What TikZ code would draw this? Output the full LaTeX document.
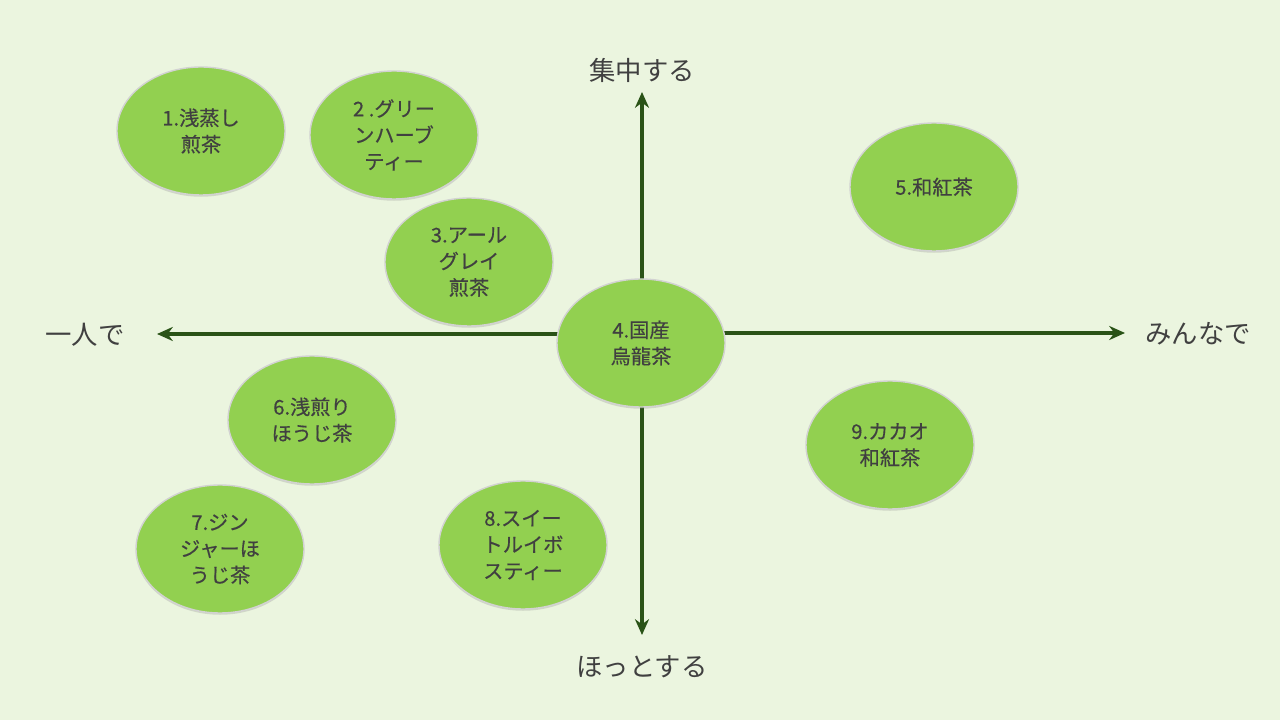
\documentclass[tikz,border=0pt]{standalone}
\usepackage{fontspec}
\setmainfont{Noto Sans CJK JP}
\newfontfamily\teafont{Noto Sans CJK JP}[FakeBold=0.5]
\usetikzlibrary{arrows.meta,positioning,shapes.geometric,shadows,backgrounds}
\definecolor{bgleaf}{HTML}{EBF5DF}
\definecolor{teafill}{HTML}{92D050}
\definecolor{axisgreen}{HTML}{2A5317}
\definecolor{inkgray}{HTML}{404040}

\begin{document}
\begin{tikzpicture}[>=Stealth,text=inkgray]
\tikzstyle{tea}=[ellipse,fill=teafill,draw=gray!35,line width=0.8pt,minimum width=3.36cm,minimum height=2.56cm,inner sep=0pt,align=center,font=\teafont\fontsize{11.5}{15}\selectfont,drop shadow={shadow xshift=0pt,shadow yshift=-1pt,opacity=0.25}]
\tikzstyle{ax}=[draw=axisgreen,line width=2pt,-{Stealth[length=9pt,width=8pt]}]
\tikzstyle{lab}=[font=\fontsize{15}{18}\selectfont]
% teas
\node[tea] (tea1) at (4.02,11.78) {1.浅蒸し\\煎茶};
\node[tea] (tea2) at (7.88,11.70) {2 .グリー\\ンハーブ\\ティー};
\node[tea] (tea3) at (9.38,9.16) {3.アール\\グレイ\\煎茶};
\node[tea] (tea4) at (12.82,7.54) {4.国産\\烏龍茶};
\node[tea] (tea5) at (18.68,10.66) {5.和紅茶};
\node[tea] (tea6) at (6.24,6.00) {6.浅煎り\\ほうじ茶};
\node[tea] (tea7) at (4.40,3.42) {7.ジン\\ジャーほ\\うじ茶};
\node[tea] (tea8) at (10.46,3.50) {8.スイー\\トルイボ\\スティー};
\node[tea] (tea9) at (17.80,5.50) {9.カカオ\\和紅茶};
% axes
\coordinate (lft) at (3.14,7.72);
\coordinate (rgt) at (22.50,7.74);
\coordinate (top) at (12.84,12.56);
\coordinate (bot) at (12.84,1.70);
\node[lab] (one) at (1.70,7.70) {一人で};
\node[lab] (all) at (23.96,7.72) {みんなで};
\node[lab] (focus) at (12.84,13.00) {集中する};
\node[lab] (relax) at (12.84,1.06) {ほっとする};
\begin{scope}[on background layer]
\fill[bgleaf] (0,0) rectangle (25.6,14.4);
\path[ax] (tea4.center |- lft) -- (lft);
\path[ax] (tea4.center |- rgt) -- (rgt);
\path[ax] (tea4.center -| top) -- (top);
\path[ax] (tea4.center -| bot) -- (bot);
\end{scope}
\end{tikzpicture}
\end{document}
